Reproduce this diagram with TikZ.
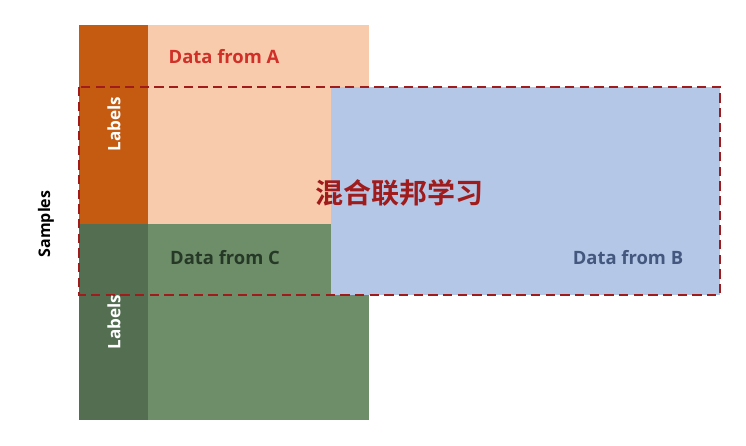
\documentclass[tikz,border=0pt]{standalone}
\usepackage{fontspec}
\setmainfont{Open Sans}
\newfontfamily\cjk{Noto Sans CJK SC}[BoldFont={Noto Sans CJK SC Bold}]
\usepackage{tikz}
\usetikzlibrary{positioning}

\definecolor{orgdark}{RGB}{197,90,17}
\definecolor{orglight}{RGB}{248,203,173}
\definecolor{grndark}{RGB}{84,110,82}
\definecolor{grnlight}{RGB}{110,142,106}
\definecolor{bluelight}{RGB}{180,199,231}
\definecolor{fedred}{RGB}{160,28,28}
\definecolor{txtA}{RGB}{208,48,39}
\definecolor{txtB}{RGB}{68,88,127}
\definecolor{txtC}{RGB}{38,56,38}

\tikzset{
  datalabel/.style={inner sep=0.75pt,font=\bfseries\fontsize{13.8}{16}\selectfont},
  sidelabel/.style={inner sep=0.75pt,rotate=90,font=\bfseries\fontsize{12.8}{15}\selectfont}
}

\begin{document}
\begin{tikzpicture}[x=0.75pt,y=0.75pt,yscale=-1,xscale=1]
  \useasboundingbox (0,0) rectangle (746,446);
  %Shape: Rectangle A
  \fill[orgdark] (79,25) rectangle (148,224);
  \fill[orglight] (148,25) rectangle (369,224);
  %Shape: Rectangle C
  \fill[grndark] (79,224) rectangle (148,420);
  \fill[grnlight] (148,224) rectangle (369,420);
  %Shape: Rectangle B
  \fill[bluelight] (331,87) rectangle (720,295);
  %Dashed frame
  \draw[fedred,line width=1.5pt,dash pattern=on 7pt off 4pt] (79,87) rectangle (720,295);

  % Text Node
  \node[datalabel,text=txtA] (dataA) at (224,57) {Data from A};
  % Text Node
  \node[datalabel,text=txtC] (dataC) at (225,258) {Data from C};
  % Text Node
  \node[datalabel,text=txtB] (dataB) at (628,258) {Data from B};
  % Text Node
  \node[inner sep=0.75pt,text=fedred,font=\cjk\bfseries\fontsize{21}{24}\selectfont] (hfl) at (399,193) {混合联邦学习};
  % Text Node
  \node[sidelabel,text=white] (labA) at (114,124) {Labels};
  % Text Node
  \node[sidelabel,text=white] (labC) at (114,322) {Labels};
  % Text Node
  \node[sidelabel,text=black,font=\bfseries\fontsize{12}{14}\selectfont] (samples) at (46,224) {Samples};
\end{tikzpicture}
\end{document}
